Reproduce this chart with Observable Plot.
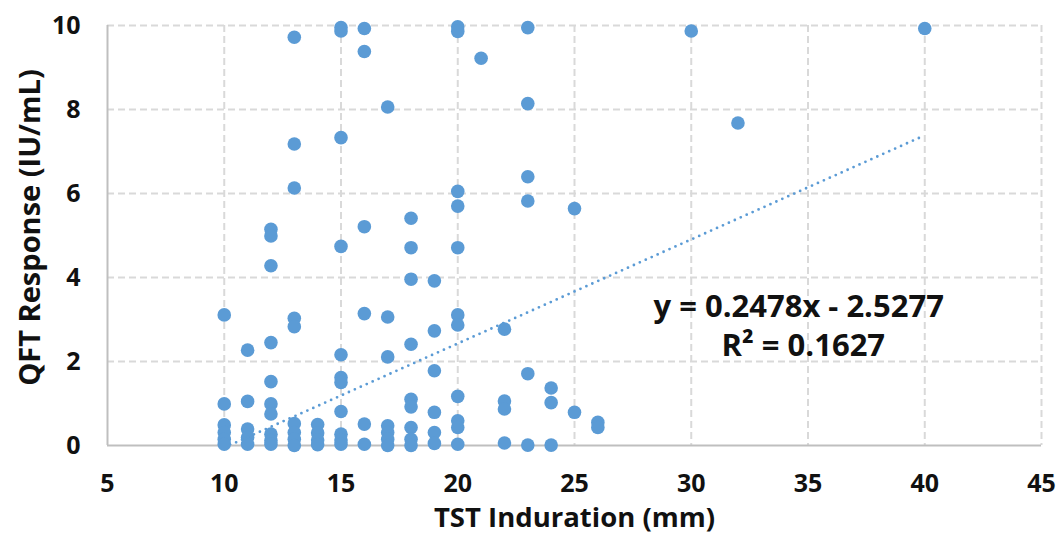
<!DOCTYPE html>
<html>
<head>
<meta charset="utf-8">
<script src="https://cdn.jsdelivr.net/npm/d3@7"></script>
<script src="https://cdn.jsdelivr.net/npm/@observablehq/plot@0.6"></script>
<style>
  html, body { margin: 0; padding: 0; background: #fff; }
  #chart svg { display: block; }
</style>
</head>
<body>
<div id="chart"></div>
<script>
// TST induration (mm) for each subject
const tst = [
  10, 10, 10, 10, 10, 10,
  11, 11, 11, 11, 11,
  12, 12, 12, 12, 12, 12, 12, 12, 12, 12,
  13, 13, 13, 13, 13, 13, 13, 13, 13,
  14, 14, 14, 14,
  15, 15, 15, 15, 15, 15, 15, 15, 15, 15, 15,
  16, 16, 16, 16, 16, 16,
  17, 17, 17, 17, 17, 17, 17,
  18, 18, 18, 18, 18, 18, 18, 18, 18,
  19, 19, 19, 19, 19, 19,
  20, 20, 20, 20, 20, 20, 20, 20, 20, 20, 20,
  21,
  22, 22, 22, 22,
  23, 23, 23, 23, 23, 23,
  24, 24, 24,
  25, 25,
  26, 26,
  30, 32, 40
];
// QFT response (IU/mL) for each subject
const qft = [
  3.11, 0.99, 0.49, 0.31, 0.15, 0.03,
  2.27, 1.05, 0.39, 0.19, 0.03,
  5.15, 4.99, 4.28, 2.45, 1.52, 0.99, 0.75, 0.27, 0.12, 0.03,
  9.72, 7.18, 6.13, 3.03, 2.83, 0.52, 0.31, 0.15, 0.0,
  0.50, 0.30, 0.13, 0.02,
  9.95, 9.87, 7.33, 4.74, 2.16, 1.62, 1.50, 0.81, 0.27, 0.13, 0.03,
  9.93, 9.38, 5.21, 3.14, 0.51, 0.03,
  8.06, 3.06, 2.11, 0.47, 0.31, 0.15, 0.0,
  5.41, 4.71, 3.96, 2.41, 1.10, 0.92, 0.43, 0.15, 0.0,
  3.92, 2.73, 1.78, 0.79, 0.31, 0.05,
  9.97, 9.86, 6.05, 5.70, 4.71, 3.11, 2.87, 1.17, 0.59, 0.43, 0.03,
  9.22,
  2.77, 1.06, 0.87, 0.06,
  9.95, 8.14, 6.40, 5.82, 1.71, 0.01,
  1.37, 1.02, 0.01,
  5.64, 0.79,
  0.55, 0.43,
  9.87, 7.68, 9.93
];

const xTicks = [5, 10, 15, 20, 25, 30, 35, 40, 45];
const yTicks = [0, 2, 4, 6, 8, 10];
const xGridTicks = [10, 15, 20, 25, 30, 35, 40, 45];
const yGridTicks = [2, 4, 6, 8, 10];

// Linear trendline as reported on the chart
const trendSlope = 0.2478;
const trendIntercept = -2.5277;
const trendRangeX = [10, 40];
const equationLines = ["y = 0.2478x - 2.5277", "R² = 0.1627"];
const xTitle = "TST Induration (mm)";
const yTitle = "QFT Response (IU/mL)";

const points = tst.map((t, i) => ({tst: t, qft: qft[i]}));
const trend = trendRangeX.map(x => ({x, y: trendSlope * x + trendIntercept}));

const blue = "#5b9bd5";
const gridStyle = {stroke: "#d9d9d9", strokeOpacity: 1, strokeWidth: 2, strokeDasharray: "7,4"};

const chart = Plot.plot({
  width: 1059,
  height: 535,
  marginLeft: 107,
  marginRight: 18,
  marginTop: 25,
  marginBottom: 90,
  x: {domain: [5, 45]},
  y: {domain: [0, 10]},
  style: {fontFamily: "'Open Sans', sans-serif", background: "#fff", color: "#111"},
  marks: [
    Plot.gridX(xGridTicks, gridStyle),
    Plot.gridY(yGridTicks, gridStyle),
    Plot.ruleX([5], {stroke: "#bfbfbf", strokeWidth: 2}),
    Plot.ruleY([0], {stroke: "#bfbfbf", strokeWidth: 2}),
    Plot.axisX(xTicks, {tickSize: 0, tickPadding: 29, fontSize: 25, fontWeight: "bold", label: null}),
    Plot.axisY(yTicks, {tickSize: 0, tickPadding: 27, fontSize: 25, fontWeight: "bold", label: null}),
    Plot.dot(points, {x: "tst", y: "qft", r: 6.8, fill: blue}),
    Plot.line(trend, {x: "x", y: "y", stroke: blue, strokeWidth: 2.8, strokeDasharray: "0 6.5", strokeLinecap: "round", clip: true}),
    Plot.text([xTitle], {frameAnchor: "bottom", text: d => d, dy: 73, lineAnchor: "middle", textAnchor: "middle", fontSize: 27.5, fontWeight: "bold"}),
    Plot.text([yTitle], {frameAnchor: "left", text: d => d, rotate: -90, dx: -77, dy: -8, lineAnchor: "middle", textAnchor: "middle", fontSize: 29, fontWeight: "bold"}),
    Plot.text(equationLines, {x: [34.6, 34.8], y: [3.3, 2.37], text: d => d, fontSize: 31, fontWeight: "bold"})
  ]
});
document.getElementById("chart").appendChild(chart);
</script>
</body>
</html>
